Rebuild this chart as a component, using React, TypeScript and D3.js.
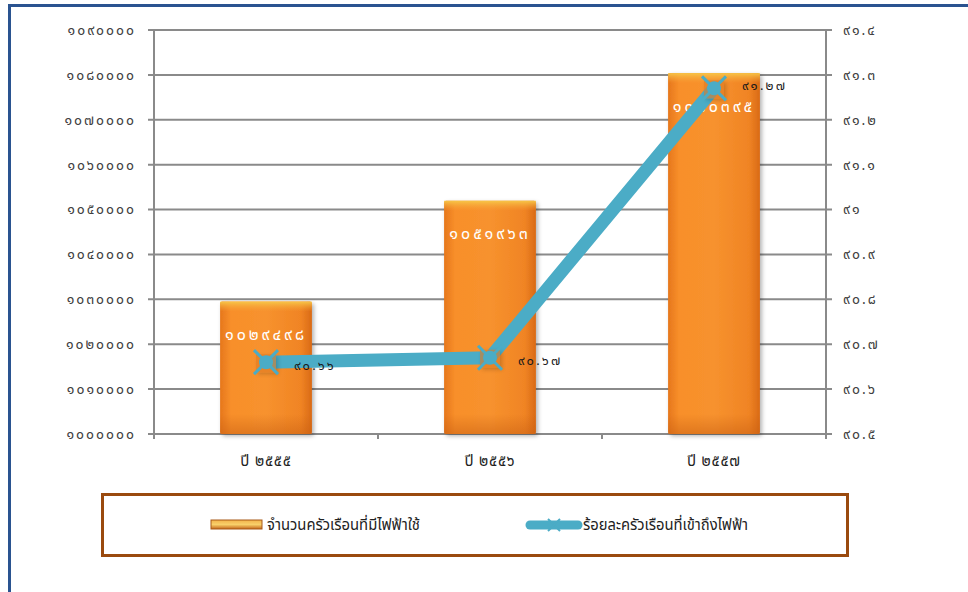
import React from "react";
import * as d3 from "d3";

const categories = ["ปี ๒๕๕๕", "ปี ๒๕๕๖", "ปี ๒๕๕๗"];
const households = [1029498, 1051963, 1080395];
const percentAccess = [90.66, 90.67, 91.27];
const leftTicks = [1000000, 1010000, 1020000, 1030000, 1040000, 1050000, 1060000, 1070000, 1080000, 1090000];
const rightTicks = [90.5, 90.6, 90.7, 90.8, 90.9, 91.0, 91.1, 91.2, 91.3, 91.4];
const seriesNames = ["จำนวนครัวเรือนที่มีไฟฟ้าใช้", "ร้อยละครัวเรือนที่เข้าถึงไฟฟ้า"];

const thaiDigits = "๐๑๒๓๔๕๖๗๘๙";
const toThai = (s: string) => s.replace(/[0-9]/g, (d) => thaiDigits[+d]);

const W = 968, H = 592;
const plotL = 154, plotR = 826, plotT = 30, plotB = 434;
const FONT = "'Noto Sans', 'Noto Sans Thai', 'Liberation Sans', sans-serif";

export default function App() {
  const x = d3.scaleBand<string>().domain(categories).range([plotL, plotR]).paddingInner(0.59).paddingOuter(0.295);
  const yL = d3.scaleLinear().domain([1000000, 1090000]).range([plotB, plotT]);
  const yR = d3.scaleLinear().domain([90.5, 91.4]).range([plotB, plotT]);
  const band = d3.scaleBand<string>().domain(categories).range([plotL, plotR]);
  const cx = (c: string) => (band(c) as number) + band.bandwidth() / 2;

  const linePts: [number, number][] = categories.map((c, i) => [cx(c), yR(percentAccess[i])]);
  const line = d3.line()(linePts) as string;
  const gridColor = "#8a8a8a";
  const lineColor = "#4BACC6";

  const fmtPct = (v: number) => toThai(String(+v.toFixed(2)));
  const labelDy = [3, 3, -3];

  return (
    <svg width={W} height={H} style={{ position: "absolute", left: 0, top: 0, display: "block" }} fontFamily={FONT}>
      <defs>
        <linearGradient id="barH" x1="0" x2="1" y1="0" y2="0">
          <stop offset="0" stopColor="#E6771C" />
          <stop offset="0.12" stopColor="#F88F2A" />
          <stop offset="0.5" stopColor="#F7922E" />
          <stop offset="0.88" stopColor="#F08424" />
          <stop offset="1" stopColor="#D96A16" />
        </linearGradient>
        <linearGradient id="barTop" x1="0" x2="0" y1="0" y2="1">
          <stop offset="0" stopColor="#F7C94A" stopOpacity="0.95" />
          <stop offset="1" stopColor="#F7A53A" stopOpacity="0" />
        </linearGradient>
        <linearGradient id="barBottom" x1="0" x2="0" y1="0" y2="1">
          <stop offset="0" stopColor="#C85F12" stopOpacity="0" />
          <stop offset="1" stopColor="#C85F12" stopOpacity="0.5" />
        </linearGradient>
        <linearGradient id="legBar" x1="0" x2="0" y1="0" y2="1">
          <stop offset="0" stopColor="#F2B24A" />
          <stop offset="0.5" stopColor="#F8D06A" />
          <stop offset="1" stopColor="#C4671A" />
        </linearGradient>
        <filter id="shadow" x="-20%" y="-20%" width="150%" height="150%">
          <feDropShadow dx="2" dy="2" stdDeviation="2" floodColor="#000" floodOpacity="0.3" />
        </filter>
      </defs>
      <rect x={0} y={0} width={W} height={H} fill="#fff" />
      {/* outer frame */}
      <rect x={9.5} y={5.5} width={W + 20} height={H + 20} fill="none" stroke="#2A5390" strokeWidth={3} />

      {/* gridlines */}
      {leftTicks.map((t) => (
        <line key={t} x1={plotL - 6} x2={plotR + 6} y1={yL(t)} y2={yL(t)} stroke={gridColor} strokeWidth={2} />
      ))}
      {/* axes */}
      <line x1={plotL} x2={plotL} y1={plotT} y2={plotB + 5} stroke={gridColor} strokeWidth={2} />
      <line x1={plotR} x2={plotR} y1={plotT} y2={plotB + 5} stroke={gridColor} strokeWidth={2} />
      {categories.slice(1).map((c) => (
        <line key={c} x1={band(c)} x2={band(c)} y1={plotB} y2={plotB + 5} stroke={gridColor} strokeWidth={2} />
      ))}

      {/* left tick labels */}
      {leftTicks.map((t) => (
        <text key={t} x={136} y={yL(t)} dy="0.35em" textAnchor="end" fontSize={14} letterSpacing={2} fill="#404040">
          {toThai(String(t))}
        </text>
      ))}
      {/* right tick labels */}
      {rightTicks.map((t) => (
        <text key={t} x={843} y={yR(t)} dy="0.35em" textAnchor="start" fontSize={14} letterSpacing={2} fill="#404040">
          {toThai(String(+t.toFixed(1)))}
        </text>
      ))}
      {/* category labels */}
      {categories.map((c) => (
        <text key={c} x={cx(c)} y={461} dy="0.35em" textAnchor="middle" fontSize={15} letterSpacing={0.8} fill="#222">
          {c}
        </text>
      ))}

      {/* bars */}
      {categories.map((c, i) => {
        const bx = x(c) as number;
        const bw = x.bandwidth();
        const by = yL(households[i]);
        const bh = plotB - by;
        return (
          <g key={c}>
            <rect x={bx} y={by} width={bw} height={bh} fill="url(#barH)" filter="url(#shadow)" rx={2} />
            <rect x={bx} y={by} width={bw} height={10} fill="url(#barTop)" />
            <rect x={bx} y={plotB - 20} width={bw} height={20} fill="url(#barBottom)" />
            <text x={bx + bw / 2} y={by + 33} dy="0.35em" textAnchor="middle" fontSize={16} letterSpacing={3} fill="#fff">
              {toThai(String(households[i]))}
            </text>
          </g>
        );
      })}

      {/* line */}
      <path d={line} fill="none" stroke={lineColor} strokeWidth={13} strokeLinejoin="round" strokeLinecap="round" />
      {linePts.map(([px, py], i) => (
        <g key={i}>
          <rect x={px - 10} y={py - 8} width={20} height={18} fill="#E07A22" opacity={0.6} filter="url(#shadow)" />
          <line x1={px - 12} y1={py - 12} x2={px + 12} y2={py + 12} stroke={lineColor} strokeWidth={3} />
          <line x1={px - 12} y1={py + 12} x2={px + 12} y2={py - 12} stroke={lineColor} strokeWidth={3} />
          <circle cx={px} cy={py} r={7} fill={lineColor} />
        </g>
      ))}
      {linePts.map(([px, py], i) => (
        <text key={"l" + i} x={px + 28} y={py + labelDy[i]} dy="0.35em" textAnchor="start" fontSize={13} letterSpacing={2.2} fill="#1a1a1a">
          {fmtPct(percentAccess[i])}
        </text>
      ))}

      {/* legend */}
      <rect x={102.5} y={494.5} width={745} height={61} fill="#fff" stroke="#9A4A0E" strokeWidth={3} />
      <rect x={211} y={520} width={51} height={9} fill="url(#legBar)" stroke="#A85A18" strokeWidth={1} />
      <text x={267} y={525} dy="0.35em" fontSize={15} textLength={153} lengthAdjust="spacingAndGlyphs" fill="#222">
        {seriesNames[0]}
      </text>
      <line x1={530} x2={578} y1={525} y2={525} stroke={lineColor} strokeWidth={9} strokeLinecap="round" />
      <line x1={548} y1={519} x2={560} y2={531} stroke={lineColor} strokeWidth={2} />
      <line x1={548} y1={531} x2={560} y2={519} stroke={lineColor} strokeWidth={2} />
      <text x={583} y={525} dy="0.35em" fontSize={15} textLength={165} lengthAdjust="spacingAndGlyphs" fill="#222">
        {seriesNames[1]}
      </text>
    </svg>
  );
}
